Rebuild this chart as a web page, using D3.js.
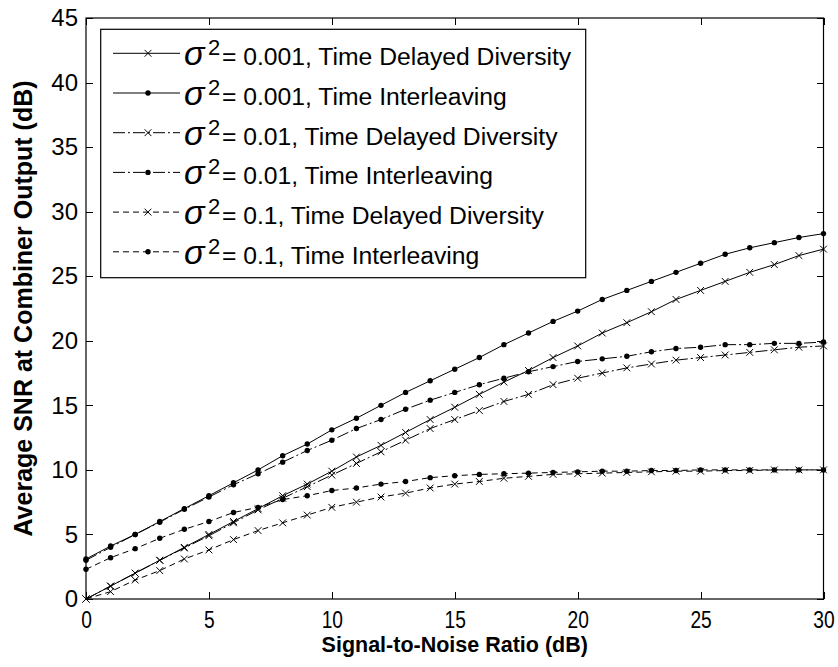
<!DOCTYPE html>
<html>
<head>
<meta charset="utf-8">
<script src="https://cdn.jsdelivr.net/npm/d3@7"></script>
<style>
  html, body { margin: 0; padding: 0; background: #fff; }
  svg { display: block; }
  text { font-family: "Liberation Sans", Arial, sans-serif; fill: #000; }
</style>
</head>
<body>
<svg id="chart" width="838" height="667"></svg>
<script>
// ---- data ----
const snr = d3.range(0, 31);
const tdd001 = [0,1.0,2.0,3.0,4.0,5.0,6.0,7.0,8.0,8.9,9.9,11.0,11.9,12.9,13.9,14.85,15.85,16.8,17.7,18.7,19.6,20.6,21.4,22.25,23.2,23.9,24.6,25.3,25.9,26.6,27.1];
const ti001  = [3.1,4.1,5.0,6.0,7.0,8.0,9.0,10.0,11.1,12.0,13.1,14.0,15.0,16.0,16.9,17.8,18.7,19.7,20.6,21.5,22.3,23.2,23.9,24.6,25.3,26.0,26.7,27.2,27.6,28.0,28.3];
const tdd01  = [0,1.0,2.0,3.0,3.95,4.9,5.9,6.9,7.8,8.7,9.6,10.5,11.4,12.3,13.2,13.9,14.6,15.3,15.85,16.6,17.1,17.5,17.9,18.2,18.5,18.7,18.9,19.1,19.3,19.5,19.6];
const ti01   = [3.0,4.0,5.0,5.95,6.95,7.9,8.85,9.7,10.6,11.5,12.3,13.2,13.9,14.7,15.4,16.0,16.6,17.1,17.6,18.0,18.4,18.6,18.8,19.15,19.4,19.5,19.7,19.7,19.8,19.8,19.9];
const tdd1   = [0,0.57,1.47,2.2,3.1,3.8,4.6,5.3,5.9,6.5,7.1,7.5,7.9,8.2,8.6,8.9,9.1,9.35,9.5,9.65,9.7,9.75,9.8,9.85,9.9,9.9,9.95,9.95,10.0,10.0,10.0];
const ti1    = [2.3,3.2,3.9,4.7,5.4,6.0,6.7,7.1,7.7,8.0,8.4,8.6,8.9,9.1,9.4,9.55,9.65,9.7,9.75,9.8,9.85,9.9,9.9,9.95,9.95,10.0,10.0,10.0,10.0,10.0,10.0];

const legendLabels = [
  "= 0.001, Time Delayed Diversity",
  "= 0.001, Time Interleaving",
  "= 0.01, Time Delayed Diversity",
  "= 0.01, Time Interleaving",
  "= 0.1, Time Delayed Diversity",
  "= 0.1, Time Interleaving"
];
const xTicks = [0, 5, 10, 15, 20, 25, 30];
const yTicks = [0, 5, 10, 15, 20, 25, 30, 35, 40, 45];
const xTitle = "Signal-to-Noise Ratio (dB)";
const yTitle = "Average SNR at Combiner Output (dB)";

const series = [
  { values: tdd001, marker: "x",   dash: null },
  { values: ti001,  marker: "dot", dash: null },
  { values: tdd01,  marker: "x",   dash: "12,3,2,3" },
  { values: ti01,   marker: "dot", dash: "12,3,2,3" },
  { values: tdd1,   marker: "x",   dash: "6,4" },
  { values: ti1,    marker: "dot", dash: "6,4" }
];

// ---- layout ----
const svg = d3.select("#chart");
const L = 86, R = 823.5, T = 18, B = 599;
const x = d3.scaleLinear().domain([0, 30]).range([L, R]);
const y = d3.scaleLinear().domain([0, 45]).range([B, T]);

svg.append("rect").attr("width", 838).attr("height", 667).attr("fill", "#fff");

// axes
const tk = 7;
const gx = svg.append("g").attr("transform", `translate(0,${B})`)
  .call(d3.axisBottom(x).tickValues(xTicks).tickSize(-tk).tickSizeOuter(0).tickPadding(12));
const gy = svg.append("g").attr("transform", `translate(${L},0)`)
  .call(d3.axisLeft(y).tickValues(yTicks).tickSize(-tk).tickSizeOuter(0).tickPadding(8));
const gt = svg.append("g").attr("transform", `translate(0,${T})`)
  .call(d3.axisTop(x).tickValues(xTicks).tickSize(-tk).tickSizeOuter(0).tickFormat(""));
const gr = svg.append("g").attr("transform", `translate(${R},0)`)
  .call(d3.axisRight(y).tickValues(yTicks).tickSize(-tk).tickSizeOuter(0).tickFormat(""));
[gx, gy, gt, gr].forEach(g => {
  g.selectAll("path.domain").remove();
  g.selectAll("line").attr("stroke", "#000").attr("stroke-width", 1).attr("shape-rendering", "crispEdges");
  g.selectAll("text").attr("font-size", 24).attr("font-family", "Liberation Sans, Arial, sans-serif").attr("fill", "#000");
});
// x tick labels are narrow in the reference
gx.selectAll("text").attr("transform", "scale(0.8,1)");

svg.append("rect").attr("x", L).attr("y", T).attr("width", R - L).attr("height", B - T)
  .attr("fill", "none").attr("stroke", "#000").attr("stroke-width", 1.2);

// axis titles
svg.append("text").attr("x", (L + R) / 2).attr("y", 652).attr("text-anchor", "middle")
  .attr("font-size", 21.5).attr("font-weight", "bold").text(xTitle);
svg.append("text").attr("transform", `translate(32,${(T + B) / 2}) rotate(-90)`)
  .attr("text-anchor", "middle").attr("font-size", 25).attr("font-weight", "bold").text(yTitle);

// markers
function drawMarker(g, m, cx, cy) {
  if (m === "x") {
    const s = 3.4;
    g.append("path").attr("d", `M${cx - s},${cy - s}L${cx + s},${cy + s}M${cx - s},${cy + s}L${cx + s},${cy - s}`)
      .attr("stroke", "#000").attr("stroke-width", 1).attr("fill", "none");
  } else {
    g.append("circle").attr("cx", cx).attr("cy", cy).attr("r", 2.7).attr("fill", "#000");
  }
}

const line = d3.line().x((d, i) => x(snr[i])).y(d => y(d));
const plot = svg.append("g");
series.forEach(s => {
  plot.append("path").datum(s.values).attr("d", line)
    .attr("fill", "none").attr("stroke", "#000").attr("stroke-width", 1)
    .attr("stroke-dasharray", s.dash);
  s.values.forEach((v, i) => drawMarker(plot, s.marker, x(snr[i]), y(v)));
});

// legend
const lg = svg.append("g");
lg.append("rect").attr("x", 100.7).attr("y", 29.3).attr("width", 485).attr("height", 248.4)
  .attr("fill", "#fff").attr("stroke", "#000").attr("stroke-width", 1.2);
series.forEach((s, i) => {
  const cy = 53.3 + i * 39.7;
  lg.append("line").attr("x1", 113).attr("x2", 180).attr("y1", cy).attr("y2", cy)
    .attr("stroke", "#000").attr("stroke-width", 1).attr("stroke-dasharray", s.dash);
  drawMarker(lg, s.marker, 148, cy);
  const base = cy + 12;
  lg.append("text").attr("x", 184).attr("y", base)
    .attr("font-family", "Liberation Serif, DejaVu Serif, serif").attr("font-style", "italic")
    .attr("font-size", 34).text("σ");
  lg.append("text").attr("x", 208).attr("y", base - 10).attr("font-size", 22).text("2");
  lg.append("text").attr("x", 222).attr("y", base).attr("font-size", 24.7).text(legendLabels[i]);
});
</script>
</body>
</html>
